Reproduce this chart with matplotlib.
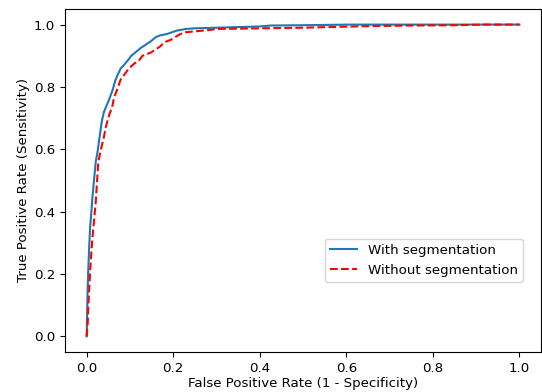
import matplotlib
matplotlib.use("Agg")
import matplotlib.pyplot as plt

plt.rcParams['font.size'] = 9.6

# ROC curve with segmentation
fpr_seg = [0, 0.001, 0.002, 0.004, 0.006, 0.008, 0.011, 0.013, 0.017, 0.021, 0.025, 0.028,
           0.032, 0.035, 0.040, 0.046, 0.052, 0.060, 0.066, 0.072, 0.079, 0.086, 0.092, 0.098,
           0.103, 0.112, 0.125, 0.136, 0.148, 0.160, 0.169, 0.186, 0.209, 0.230, 0.248, 0.300,
           0.350, 0.400, 0.425, 0.500, 0.610, 0.700, 0.800, 0.900, 1.0]
tpr_seg = [0, 0.06, 0.14, 0.22, 0.29, 0.35, 0.40, 0.44, 0.50, 0.56, 0.59, 0.62,
           0.66, 0.69, 0.72, 0.74, 0.76, 0.79, 0.82, 0.84, 0.86, 0.87, 0.88, 0.89,
           0.90, 0.91, 0.925, 0.935, 0.946, 0.96, 0.965, 0.970, 0.981, 0.986, 0.988, 0.990,
           0.992, 0.994, 0.997, 0.998, 1.0, 1.0, 1.0, 1.0, 1.0]

# ROC curve without segmentation
fpr_noseg = [0, 0.002, 0.004, 0.007, 0.009, 0.013, 0.017, 0.021, 0.027, 0.033, 0.040, 0.044,
             0.052, 0.059, 0.063, 0.070, 0.079, 0.082, 0.090, 0.098, 0.110, 0.121, 0.129, 0.148,
             0.159, 0.170, 0.179, 0.194, 0.213, 0.225, 0.248, 0.286, 0.302, 0.400, 0.500, 0.648,
             0.750, 0.850, 0.920, 1.0]
tpr_noseg = [0, 0.03, 0.10, 0.18, 0.23, 0.31, 0.37, 0.43, 0.56, 0.60, 0.64, 0.67,
             0.71, 0.735, 0.765, 0.79, 0.825, 0.83, 0.845, 0.86, 0.875, 0.885, 0.90, 0.91,
             0.92, 0.93, 0.943, 0.951, 0.967, 0.975, 0.978, 0.983, 0.986, 0.988, 0.990, 0.995,
             0.997, 0.998, 1.0, 1.0]

fig = plt.figure(figsize=(5.42, 3.92), dpi=100)
ax = fig.add_axes([65 / 542, 1 - 352 / 392, 476 / 542, 343 / 392])

ax.plot(fpr_seg, tpr_seg, color='#1f77b4', label='With segmentation')
ax.plot(fpr_noseg, tpr_noseg, 'r--', label='Without segmentation')

ax.set_xlabel('False Positive Rate (1 - Specificity)', labelpad=2)
ax.set_ylabel('True Positive Rate (Sensitivity)', labelpad=3)

ax.legend(loc='lower right', bbox_to_anchor=(0.962, 0.204), borderaxespad=0)

fig.savefig('out.png', dpi=100)
